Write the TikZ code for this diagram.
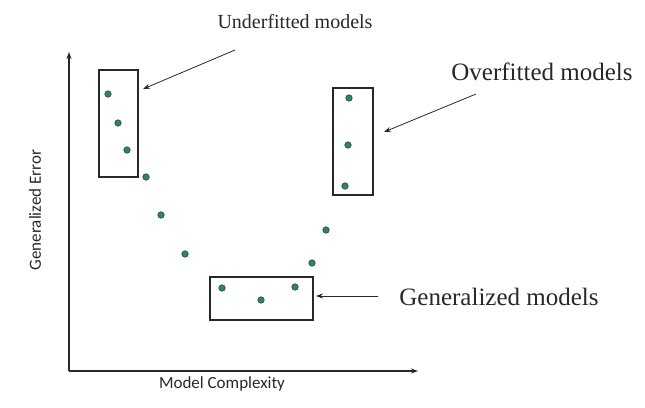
\documentclass[tikz,border=0pt]{standalone}
\usepackage{fontspec}
\setmainfont{Liberation Serif}
\setsansfont{Carlito}
\usepackage{tikz}
\usetikzlibrary{arrows.meta,positioning}
\definecolor{dotgreen}{RGB}{52,128,104}
\definecolor{ink}{RGB}{40,40,40}

\begin{document}
\begin{tikzpicture}[x=1pt,y=-1pt,>={Stealth[length=7pt,width=5pt]},
  pt/.style={circle,fill=dotgreen,draw=dotgreen!60!black,line width=0.6pt,minimum size=6.5pt,inner sep=0pt},
  frame/.style={draw=ink,line width=1.4pt,inner sep=0pt},
  lbl/.style={text=ink,font=\fontsize{#1}{#1}\selectfont}]
  \useasboundingbox (0,0) rectangle (645,407);
  % axes
  \coordinate (o) at (69,371);
  \coordinate (ytop) at (69,52);
  \coordinate (xend) at (418,371);
  \draw[->,line width=1.8pt,draw=ink] (o) -- (ytop);
  \draw[->,line width=1.8pt,draw=ink] (o) -- (xend);
  \node[lbl=17,font=\sffamily\fontsize{17}{17}\selectfont] (xlab) at (222,384) {Model Complexity};
  \node[lbl=17,font=\sffamily\fontsize{17}{17}\selectfont,rotate=90] (ylab) at (35,210) {Generalized Error};
  % boxes
  \node[frame,minimum width=39pt,minimum height=107pt] (under) at (118.5,123.5) {};
  \node[frame,minimum width=103pt,minimum height=43pt] (gen) at (261.5,298.5) {};
  \node[frame,minimum width=40pt,minimum height=107pt] (over) at (353,141.5) {};
  % points
  \node[pt] (p1) at (108,94) {};
  \node[pt] (p2) at (118,123) {};
  \node[pt] (p3) at (127,150) {};
  \node[pt] (p4) at (146,177) {};
  \node[pt] (p5) at (161,215) {};
  \node[pt] (p6) at (185,254) {};
  \node[pt] (p7) at (222,288) {};
  \node[pt] (p8) at (261,300) {};
  \node[pt] (p9) at (295,287) {};
  \node[pt] (p10) at (312,263) {};
  \node[pt] (p11) at (326,230) {};
  \node[pt] (p12) at (345,186) {};
  \node[pt] (p13) at (348,145) {};
  \node[pt] (p14) at (349,98) {};
  % labels
  \node[lbl=20] (tunder) at (295,22) {Underfitted models};
  \node[lbl=25] (tover) at (542,72) {Overfitted models};
  \node[lbl=25] (tgen) at (499,297) {Generalized models};
  \coordinate (sunder) at (235,50);
  \coordinate (sover) at (476,94);
  \coordinate (sgen) at (378,296);
  \coordinate (aunder) at (143,89);
  \coordinate (aover) at (384,132);
  \coordinate (agen) at (316,296);
  \draw[->,draw=ink,line width=0.8pt] (sunder) -- (aunder);
  \draw[->,draw=ink,line width=0.8pt] (sover) -- (aover);
  \draw[->,draw=ink,line width=0.8pt] (sgen) -- (agen);
\end{tikzpicture}
\end{document}
